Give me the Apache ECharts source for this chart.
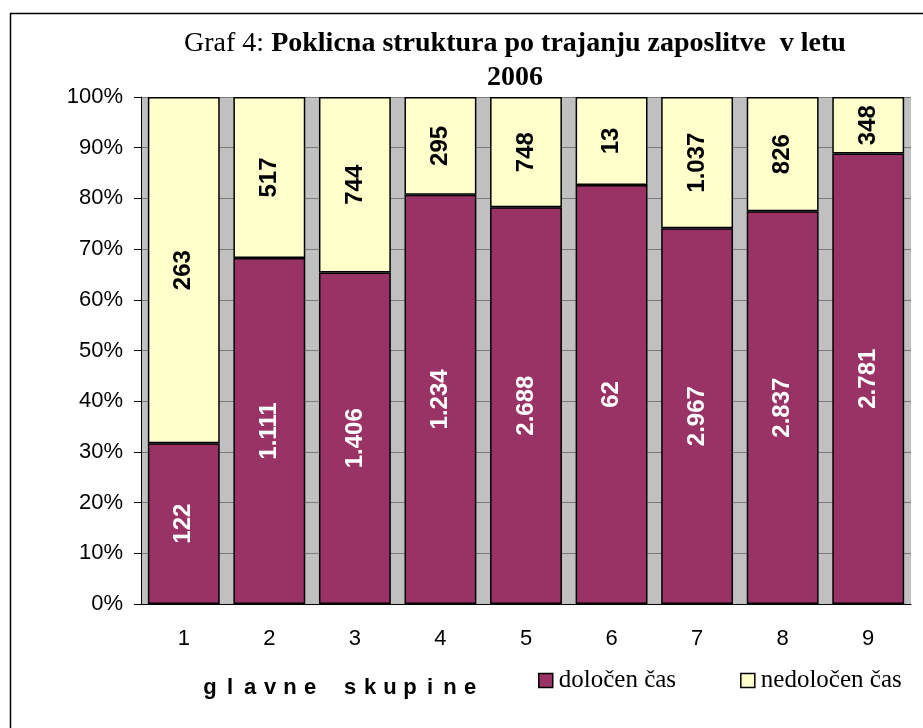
<!DOCTYPE html>
<html>
<head>
<meta charset="utf-8">
<script src="https://cdn.jsdelivr.net/npm/echarts@6/dist/echarts.min.js"></script>
<style>
  html, body { margin: 0; padding: 0; background: #fff; }
  #chart { width: 923px; height: 728px; }
</style>
</head>
<body>
<div id="chart"></div>
<script>
// glavne skupine poklicev
var categories = ["1", "2", "3", "4", "5", "6", "7", "8", "9"];
// število zaposlenih po trajanju zaposlitve
var dolocen = [122, 1111, 1406, 1234, 2688, 62, 2967, 2837, 2781];
var nedolocen = [263, 517, 744, 295, 748, 13, 1037, 826, 348];
var yTicks = [0, 10, 20, 30, 40, 50, 60, 70, 80, 90, 100];
var axisName = "glavne skupine";

// delež v odstotkih (100% stolpci)
function share(arr, i) {
  return (arr[i] / (dolocen[i] + nedolocen[i])) * 100;
}
var dolocenPct = categories.map(function (c, i) { return share(dolocen, i); });
var nedolocenPct = categories.map(function (c, i) { return share(nedolocen, i); });

// 1234 -> "1.234"
function fmt(v) {
  return String(v).replace(/\B(?=(\d{3})+(?!\d))/g, ".");
}

// razprte črke za ime osi
var spaced = axisName.split("").map(function (ch) {
  return "{c|" + ch + "}";
}).join("");

var chart = echarts.init(document.getElementById("chart"));
var option = {
  backgroundColor: "#fff",
  animation: false,
  title: [
    {
      text: "{n|Graf 4: }{b|Poklicna struktura po trajanju zaposlitve  v letu}\n{b|2006}",
      left: 510,
      top: 22,
      textAlign: "center",
      textStyle: {
        rich: {
          n: { fontFamily: "Liberation Serif", fontSize: 28, fontWeight: "normal", color: "#000", lineHeight: 34 },
          b: { fontFamily: "Liberation Serif", fontSize: 28, fontWeight: "bold", color: "#000", lineHeight: 34 }
        }
      }
    },
    {
      text: spaced,
      left: 195,
      top: 672,
      textStyle: {
        rich: {
          c: { fontFamily: "Liberation Sans", fontSize: 22, fontWeight: "bold", color: "#000", width: 20, align: "center" }
        }
      }
    }
  ],
  legend: {
    left: 533,
    top: 663,
    itemWidth: 14,
    itemHeight: 14,
    itemGap: 64,
    icon: "rect",
    textStyle: { fontFamily: "Liberation Serif", fontSize: 25, color: "#000", padding: [0, 0, 0, 1] },
    data: [
      { name: "določen čas", itemStyle: { borderColor: "#000", borderWidth: 1.5 } },
      { name: "nedoločen čas", itemStyle: { borderColor: "#000", borderWidth: 1.5 } }
    ]
  },
  grid: {
    left: 141,
    right: 12,
    top: 97,
    bottom: 124,
    show: true,
    backgroundColor: "#C0C0C0",
    borderWidth: 0
  },
  xAxis: {
    type: "category",
    data: categories,
    axisLine: { lineStyle: { color: "#000", width: 1 } },
    axisTick: { length: 7, lineStyle: { color: "#000" } },
    axisLabel: { fontFamily: "Liberation Sans", fontSize: 22, color: "#000", margin: 24 }
  },
  yAxis: {
    type: "value",
    min: 0,
    max: 100,
    interval: 10,
    axisLine: { show: true, lineStyle: { color: "#000", width: 1 } },
    axisTick: { show: true, length: 7, lineStyle: { color: "#000" } },
    axisLabel: {
      fontFamily: "Liberation Sans",
      fontSize: 22,
      color: "#000",
      margin: 18,
      formatter: function (v) { return yTicks.indexOf(v) >= 0 ? v + "%" : ""; }
    },
    splitLine: { show: true, lineStyle: { color: "#7a7a7a", width: 1 } }
  },
  series: [
    {
      name: "določen čas",
      type: "bar",
      stack: "skupaj",
      barCategoryGap: "16%",
      data: dolocenPct,
      itemStyle: { color: "#993366", borderColor: "#000", borderWidth: 1.5 },
      label: {
        show: true,
        position: "inside",
        rotate: 90,
        fontFamily: "Liberation Sans",
        fontSize: 24,
        fontWeight: "bold",
        color: "#fff",
        formatter: function (p) { return fmt(dolocen[p.dataIndex]); }
      }
    },
    {
      name: "nedoločen čas",
      type: "bar",
      stack: "skupaj",
      barCategoryGap: "16%",
      data: nedolocenPct,
      itemStyle: { color: "#FFFFCC", borderColor: "#000", borderWidth: 1.5 },
      label: {
        show: true,
        position: "inside",
        rotate: 90,
        fontFamily: "Liberation Sans",
        fontSize: 24,
        fontWeight: "bold",
        color: "#000",
        formatter: function (p) { return fmt(nedolocen[p.dataIndex]); }
      }
    }
  ],
  graphic: [
    {
      type: "rect",
      left: 8,
      top: 11,
      shape: { width: 940, height: 740 },
      style: { fill: "none", stroke: "#000", lineWidth: 1.5 },
      silent: true
    }
  ]
};
chart.setOption(option);
</script>
</body>
</html>
